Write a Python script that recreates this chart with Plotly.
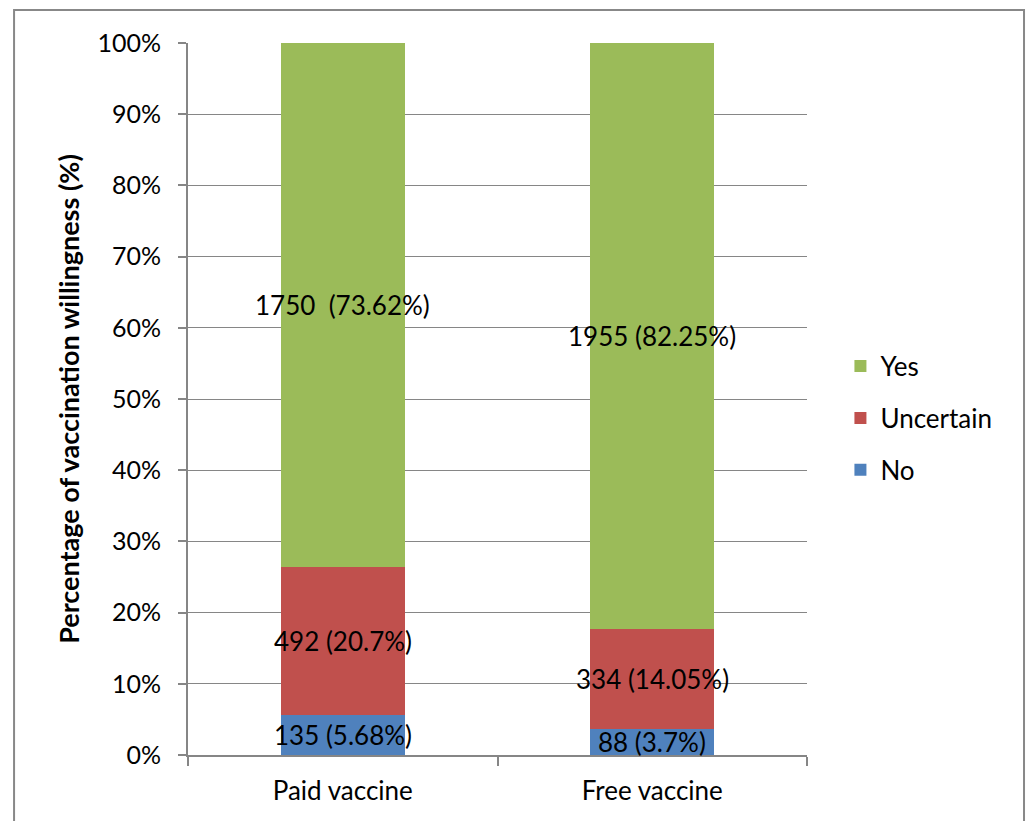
import plotly.graph_objects as go

categories = ["Paid vaccine", "Free vaccine"]
series_names = ["No", "Uncertain", "Yes"]
no_pct = [5.68, 3.7]
uncertain_pct = [20.7, 14.05]
yes_pct = [73.62, 82.25]
no_labels = ["135 (5.68%)", "88 (3.7%)"]
uncertain_labels = ["492 (20.7%)", "334 (14.05%)"]
yes_labels = ["1750  (73.62%)", "1955 (82.25%)"]
colors = ["#4F81BD", "#C0504D", "#9BBB59"]
y_ticks = [0, 10, 20, 30, 40, 50, 60, 70, 80, 90, 100]
y_tick_text = [f"{v}%" for v in y_ticks]

FONT = "Lato"
GRID = "#868686"
FS = 26

values = [no_pct, uncertain_pct, yes_pct]
labels = [no_labels, uncertain_labels, yes_labels]
ranks = [3000, 2000, 1000]

fig = go.Figure()
for name, vals, col, rk in zip(series_names, values, colors, ranks):
    fig.add_trace(go.Bar(
        x=categories, y=vals, name=name, marker=dict(color=col, line=dict(width=0)),
        legendgroup=name, legendrank=rk, width=0.4, showlegend=True,
    ))

# value labels centered in each segment (may overflow bar width as in reference)
base = [0.0] * len(categories)
for vals, lab in zip(values, labels):
    for i, c in enumerate(categories):
        fig.add_annotation(x=c, y=base[i] + vals[i] / 2, text=lab[i], showarrow=False,
                           font=dict(family=FONT, size=FS, color="#000000"),
                           xanchor="center", yanchor="middle")
        base[i] += vals[i]

fig.update_layout(
    barmode="stack",
    width=1027, height=821,
    margin=dict(l=188, r=220, t=43, b=66),
    paper_bgcolor="white", plot_bgcolor="white",
    font=dict(family=FONT, size=FS, color="#000000"),
    legend=dict(traceorder="grouped", x=1.054, y=0.473, xanchor="left", yanchor="middle",
                font=dict(family=FONT, size=FS), tracegroupgap=15, itemwidth=30,
                bgcolor="rgba(0,0,0,0)"),
    xaxis=dict(showline=True, linecolor=GRID, linewidth=2, ticks="outside", tickson="boundaries",
               ticklen=9, tickcolor=GRID, tickwidth=2, showgrid=False,
               ticklabelstandoff=12,
               tickfont=dict(family=FONT, size=FS)),
    yaxis=dict(range=[0, 100], tickmode="array", tickvals=y_ticks, ticktext=y_tick_text,
               showline=True, linecolor=GRID,
               linewidth=2, ticks="outside", ticklen=8, tickcolor=GRID, tickwidth=2,
               showgrid=True, gridcolor=GRID, gridwidth=1, zeroline=False,
               ticklabelstandoff=12,
               tickfont=dict(family=FONT, size=25),
               title=dict(text="<b>Percentage of vaccination willingness (%)</b>",
                          font=dict(family=FONT, size=27), standoff=10)),
    shapes=[dict(type="rect", xref="paper", yref="paper", x0=-0.281, x1=1.3506,
                 y0=-0.12, y1=1.0463, line=dict(color="#888888", width=2), layer="below")],
)

fig.write_html("out.html")
